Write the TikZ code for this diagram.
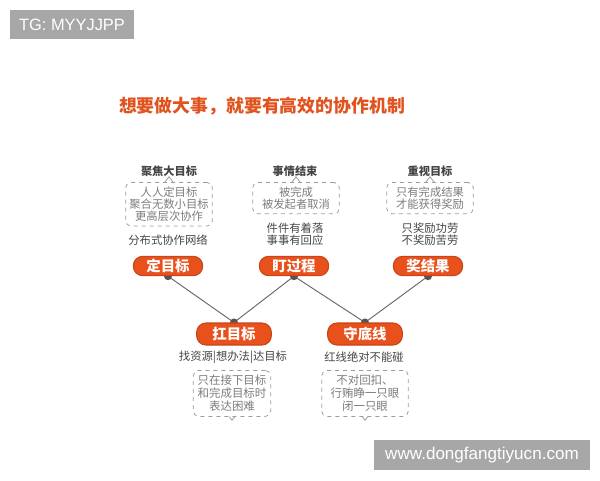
\documentclass[tikz,border=0pt]{standalone}
\usepackage{fontspec}
\setmainfont{Noto Sans CJK SC}
\newfontfamily\latinfont{Liberation Sans}
\usetikzlibrary{backgrounds}

\definecolor{pillred}{HTML}{E8501C}
\definecolor{pilledge}{HTML}{C9441A}
\definecolor{titlered}{HTML}{E0521E}
\definecolor{textgray}{HTML}{454545}
\definecolor{notegray}{HTML}{7C7C7C}
\definecolor{dashgray}{HTML}{9C9C9C}
\definecolor{wmgray}{HTML}{A7A7A7}
\definecolor{dotgray}{HTML}{555555}

\tikzset{
  pill/.style={draw=pilledge, line width=0.8pt, fill=pillred, text=white,
    rounded corners=7pt, minimum width=52pt, minimum height=14.5pt, inner sep=0pt,
    font=\fontsize{10.8}{12}\selectfont\bfseries},
  headline/.style={text=textgray, font=\fontsize{8.4}{9}\selectfont\bfseries, inner sep=0pt},
  plain/.style={text=textgray, font=\fontsize{8.5}{9.2}\selectfont, align=center, inner sep=0pt},
  notebox/.style={draw=dashgray, dashed, line width=0.6pt, rounded corners=4pt,
    text=notegray, font=\fontsize{8.5}{9.2}\selectfont, align=center,
    minimum width=65pt, inner xsep=0pt, inner ysep=3.2pt},
  link/.style={draw=dotgray!90, line width=0.7pt},
  wmark/.style={fill=wmgray, text=white, inner sep=0pt, font=\latinfont}
}

\begin{document}
\begin{tikzpicture}[x=0.75pt, y=-0.75pt]
  \useasboundingbox (0,0) rectangle (600,480);

  % Watermarks
  \node[wmark, minimum width=93pt, minimum height=21.75pt, font=\latinfont\fontsize{12.3}{14}\selectfont] (tgmark) at (72,24.5) {TG: MYYJJPP};
  \node[wmark, minimum width=162pt, minimum height=22.5pt, font=\latinfont\fontsize{12.8}{14}\selectfont] (urlmark) at (482,455) {www.dongfangtiyucn.com};

  % Title
  \node[text=titlered, font=\fontsize{13.4}{15}\selectfont\bfseries, inner sep=0pt] (title) at (262,106) {想要做大事，就要有高效的协作机制};

  % Upper column: goals
  \node[headline] (goalhead) at (169,171) {聚焦大目标};
  \node[notebox, anchor=north] (goalnote) at (169,182) {人人定目标\\聚合无数小目标\\更高层次协作};
  \node[plain] (goaltext) at (168,240) {分布式协作网络};
  \node[pill] (dingmb) at (168,266) {定目标};

  % Upper column: process
  \node[headline] (prochead) at (295,171) {事情结束};
  \node[notebox, anchor=north] (procnote) at (296,182) {被完成\\被发起者取消};
  \node[plain] (proctext) at (295,234) {件件有着落\\事事有回应};
  \node[pill] (dinggc) at (294,266) {盯过程};

  % Upper column: results
  \node[headline] (reshead) at (430,171) {重视目标};
  \node[notebox, anchor=north] (resnote) at (430,182) {只有完成结果\\才能获得奖励};
  \node[plain] (restext) at (430,234) {只奖励功劳\\不奖励苦劳};
  \node[pill] (jiangjg) at (428,266) {奖结果};

  % Lower column: carry the goal
  \node[pill, minimum width=56pt, minimum height=16.5pt] (kangmb) at (234,334) {扛目标};
  \node[plain] (carrytext) at (233,357.5) {找资源|想办法|达目标};
  \node[notebox, minimum width=58pt, inner ysep=3.5pt, anchor=north,
    font=\fontsize{8.6}{9.8}\selectfont] (carrynote) at (232,370) {只在接下目标\\和完成目标时\\表达困难};

  % Lower column: the red line
  \node[pill, minimum width=56pt, minimum height=16.5pt] (shoudx) at (365,334) {守底线};
  \node[plain] (linetext) at (364,357.5) {红线绝对不能碰};
  \node[notebox, inner ysep=3.5pt, anchor=north,
    font=\fontsize{8.6}{9.8}\selectfont] (linenote) at (365,370) {不对回扣、\\行贿睁一只眼\\闭一只眼};

  % Bubble tails
  \foreach \n in {goalnote, procnote, resnote}
    \draw[dashgray, line width=0.6pt] ([xshift=-3pt]\n.north) -- ([yshift=4pt]\n.north) -- ([xshift=3pt]\n.north);
  \foreach \n in {carrynote, linenote}
    \draw[dashgray, line width=0.6pt] ([xshift=-2pt]\n.south) -- ([yshift=-2.5pt]\n.south) -- ([xshift=2pt]\n.south);

  % Connectors with joints
  \begin{scope}[on background layer]
    \draw[link] (dingmb.south) -- (kangmb.north);
    \draw[link] (dinggc.south) -- (kangmb.north);
    \draw[link] (dinggc.south) -- (shoudx.north);
    \draw[link] (jiangjg.south) -- (shoudx.north);
    \foreach \n in {dingmb, dinggc, jiangjg}
      \fill[dotgray] (\n.south) circle (3pt);
    \foreach \n in {kangmb, shoudx}
      \fill[dotgray] (\n.north) circle (3pt);
  \end{scope}
\end{tikzpicture}
\end{document}
